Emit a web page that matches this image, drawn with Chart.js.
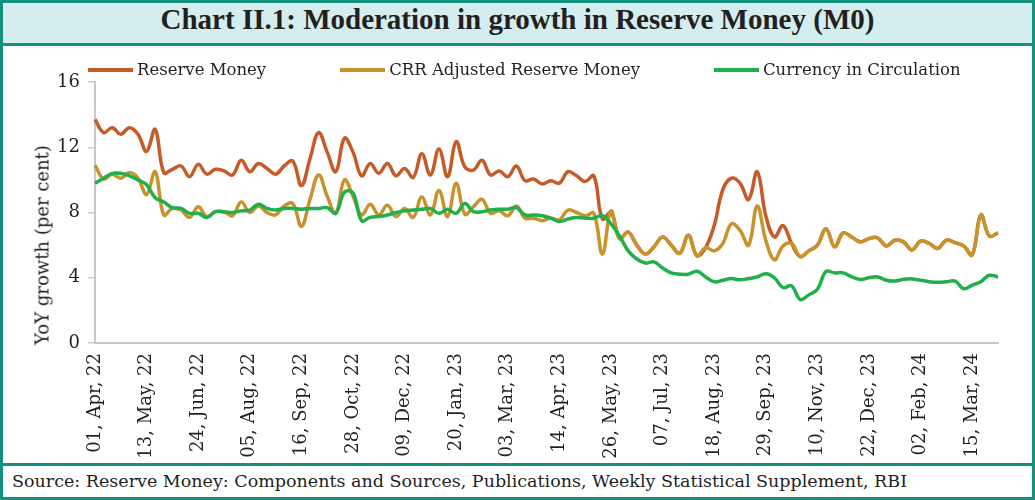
<!DOCTYPE html>
<html>
<head>
<meta charset="utf-8">
<title>Chart II.1</title>
<script src="https://cdn.jsdelivr.net/npm/chart.js@4.4.1/dist/chart.umd.min.js"></script>
<style>
  html, body { margin: 0; padding: 0; background: #fff; }
  #frame {
    width: 1035px; height: 500px; box-sizing: border-box;
    border: 3px solid #12917f; color: #231f20;
    font-family: "DejaVu Serif", serif;
  }
  #title {
    height: 40px; line-height: 40px; background: #d4edef;
    border-bottom: 3px solid #12917f; text-align: center;
    font: bold 29px "Liberation Serif", serif;
  }
  #plot { position: relative; height: 417px; }
  #legend {
    position: absolute; left: 85px; top: 14px;
    display: flex; align-items: center; font-size: 16.5px; white-space: nowrap;
  }
  .item { display: flex; align-items: center; margin-right: 74px; }
  .swatch { width: 45px; height: 4px; margin-right: 4px; }
  #ytitle {
    position: absolute; left: 39px; top: 199px;
    transform: translate(-50%, -50%) rotate(-90deg);
    font-size: 18px; white-space: nowrap;
  }
  #source {
    border-top: 3px solid #12917f; height: 31px; line-height: 31px;
    padding-left: 9px; font-size: 17.5px; white-space: nowrap;
  }
</style>
</head>
<body>
<div id="frame">
  <div id="title">Chart II.1: Moderation in growth in Reserve Money (M0)</div>
  <div id="plot">
    <canvas id="growth-line" width="1029" height="417"></canvas>
    <div id="legend"></div>
    <div id="ytitle">YoY growth (per cent)</div>
  </div>
  <div id="source">Source: Reserve Money: Components and Sources, Publications, Weekly Statistical Supplement, RBI</div>
</div>

<script>
// weekly YoY growth (per cent), 01 Apr 2022 onwards
var reserveMoney = [
  13.7, 12.9, 13.2, 12.8, 13.2, 12.8, 11.75, 13.1, 10.45, 10.65,
  10.85, 10.2, 10.95, 10.35, 10.65, 10.55, 10.3, 11.2, 10.5, 11.0,
  10.7, 10.35, 10.85, 11.15, 9.65, 11.3, 12.9, 11.7, 10.5, 12.55,
  11.7, 10.25, 11.0, 10.4, 11.0, 10.25, 10.7, 10.15, 11.6, 10.3,
  11.9, 10.2, 12.35, 10.8, 10.6, 11.2, 10.3, 10.55, 10.2, 10.85,
  9.95, 10.05, 9.75, 9.95, 9.8, 10.5, 10.25, 9.9, 10.25, 7.6,
  8.0, 6.4, 6.8, 6.0, 5.45, 5.9, 6.5, 6.0, 5.5, 6.6,
  5.35, 5.85, 7.2, 9.4, 10.1, 9.8, 8.8, 10.5, 7.8, 6.5,
  7.2, 6.1, 5.3, 5.65, 6.0, 7.0, 5.9, 6.75, 6.5, 6.2,
  6.4, 6.45, 5.95, 6.3, 6.2, 5.7, 6.25, 6.1, 5.8, 6.3,
  6.15, 5.95, 5.4, 7.85, 6.55, 6.75
];
var crrAdjusted = [
  10.9, 10.05, 10.35, 10.1, 10.45, 10.1, 9.1, 10.5, 7.85, 8.25,
  8.15, 7.7, 8.35, 7.75, 8.05, 8.05, 7.8, 8.65, 8.0, 8.4,
  8.0, 7.85, 8.4, 8.55, 7.15, 8.8, 10.3, 9.0, 7.95, 10.0,
  9.0, 7.85, 8.5, 7.85, 8.45, 7.75, 8.25, 7.7, 8.95, 7.85,
  9.35, 7.75, 9.8, 7.9, 8.35, 8.8, 7.95, 8.1, 7.8, 8.4,
  7.65, 7.65, 7.5, 7.65, 7.55, 8.15, 8.0, 7.8, 7.95, 5.45,
  8.1, 6.4, 6.8, 6.0, 5.45, 5.9, 6.5, 6.0, 5.5, 6.6,
  5.35, 5.85, 5.65, 6.1, 7.3, 6.9, 6.0, 8.4, 6.3, 5.1,
  5.95, 6.1, 5.3, 5.65, 6.0, 7.0, 5.9, 6.75, 6.5, 6.2,
  6.4, 6.45, 5.95, 6.3, 6.2, 5.7, 6.25, 6.1, 5.8, 6.3,
  6.15, 5.95, 5.4, 7.85, 6.55, 6.75
];
var currency = [
  9.8, 10.1, 10.4, 10.4, 10.25, 10.0, 9.7, 8.9, 8.65, 8.3,
  8.25, 7.95, 7.95, 7.7, 8.05, 8.05, 8.0, 8.1, 8.15, 8.5,
  8.25, 8.15, 8.25, 8.25, 8.2, 8.25, 8.25, 8.3, 7.95, 9.25,
  9.2, 7.5, 7.7, 7.75, 7.85, 8.0, 8.1, 8.15, 8.2, 8.25,
  7.95, 8.2, 7.95, 8.55, 8.05, 8.05, 8.15, 8.2, 8.2, 8.3,
  7.85, 7.85, 7.8, 7.65, 7.45, 7.6, 7.7, 7.65, 7.65, 7.8,
  7.3, 6.55, 5.65, 5.15, 4.9, 4.97, 4.6, 4.3, 4.22, 4.22,
  4.4, 4.05, 3.75, 3.85, 3.95, 3.87, 3.95, 4.05, 4.25, 4.0,
  3.4, 3.5, 2.66, 2.95, 3.3, 4.38, 4.3, 4.3, 4.05, 3.9,
  4.0, 4.05, 3.85, 3.8, 3.9, 3.93, 3.85, 3.76, 3.72, 3.75,
  3.8, 3.33, 3.55, 3.76, 4.15, 4.05
];
var yTicks = [0, 4, 8, 12, 16];
var labelEvery = 6; // one date label every six weeks

var MONTHS = ['Jan','Feb','Mar','Apr','May','Jun','Jul','Aug','Sep','Oct','Nov','Dec'];
var weeks = [];
for (var i = 0; i < reserveMoney.length; i++) {
  var d = new Date(2022, 3, 1 + 7 * i);
  weeks.push(String(d.getDate()).padStart(2, '0') + ', ' + MONTHS[d.getMonth()] + ', ' + String(d.getFullYear()).slice(2));
}

var textColor = '#231f20';
var axisColor = '#c8c8c8';
var font = { family: 'DejaVu Serif', size: 18 };

var series = [
  { label: 'Reserve Money', data: reserveMoney, color: '#c65b27', order: 3 },
  { label: 'CRR Adjusted Reserve Money', data: crrAdjusted, color: '#c8922c', order: 2 },
  { label: 'Currency in Circulation', data: currency, color: '#1faf4b', order: 1 }
];

var chart = new Chart(document.getElementById('growth-line'), {
  type: 'line',
  data: {
    labels: weeks,
    datasets: series.map(function (s) {
      return {
        label: s.label,
        data: s.data,
        borderColor: s.color,
        backgroundColor: s.color,
        borderWidth: 3.5,
        pointRadius: 0,
        tension: 0.4,
        fill: false,
        order: s.order
      };
    })
  },
  options: {
    responsive: false,
    animation: false,
    layout: { padding: { top: 36, right: 34, left: 0, bottom: 0 } },
    plugins: {
      legend: { display: false },
      tooltip: { enabled: false }
    },
    scales: {
      x: {
        offset: false,
        grid: { display: false, drawTicks: false },
        border: { display: true, color: axisColor, width: 2 },
        ticks: {
          autoSkip: false, minRotation: 90, maxRotation: 90, padding: 10,
          color: textColor, font: font,
          callback: function (value, index) {
            return index % labelEvery === 0 ? this.getLabelForValue(value) : null;
          }
        },
        afterFit: function (scale) { scale.height = 120; }
      },
      y: {
        min: yTicks[0], max: yTicks[yTicks.length - 1],
        afterBuildTicks: function (scale) {
          scale.ticks = yTicks.map(function (v) { return { value: v }; });
        },
        grid: { drawOnChartArea: false, drawTicks: true, tickLength: 7, color: axisColor, lineWidth: 1.5 },
        border: { display: true, color: axisColor, width: 2 },
        ticks: { color: textColor, font: font, padding: 8 },
        afterFit: function (scale) { scale.width = 92; }
      }
    }
  }
});

// legend built from the datasets
var legend = document.getElementById('legend');
chart.data.datasets.forEach(function (ds) {
  var item = document.createElement('div');
  item.className = 'item';
  var sw = document.createElement('span');
  sw.className = 'swatch';
  sw.style.background = ds.borderColor;
  var tx = document.createElement('span');
  tx.textContent = ds.label;
  item.appendChild(sw);
  item.appendChild(tx);
  legend.appendChild(item);
});
</script>
</body>
</html>
